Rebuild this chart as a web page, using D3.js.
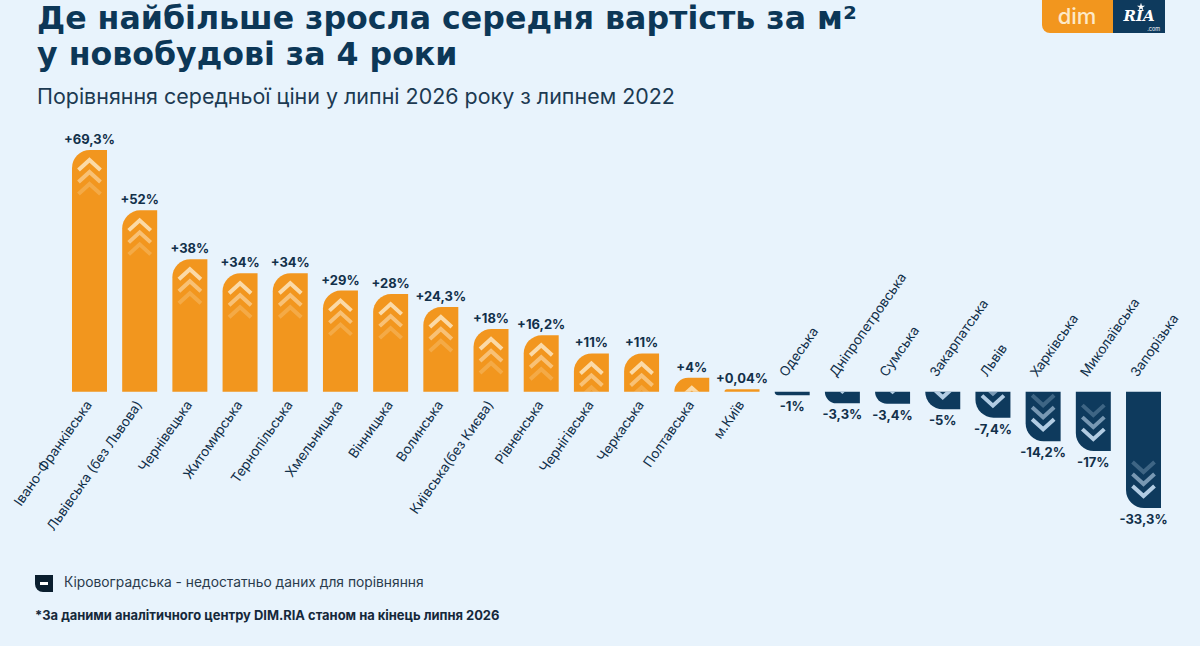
<!DOCTYPE html>
<html>
<head>
<meta charset="utf-8">
<script src="https://cdn.jsdelivr.net/npm/d3@7"></script>
<style>
  html, body { margin: 0; padding: 0; background: #e8f3fc; }
  svg { display: block; font-family: Inter, 'Noto Sans', sans-serif; }
</style>
</head>
<body>
<svg id="chart"></svg>
<script>
// Price change per m² in new buildings, July 2026 vs July 2022

const WIDTH = 1200;
const HEIGHT = 646;

const regions = [
  'Івано-Франківська', 'Львівська (без Львова)', 'Чернівецька', 'Житомирська',
  'Тернопільська', 'Хмельницька', 'Вінницька', 'Волинська', 'Київська(без Києва)',
  'Рівненська', 'Чернігівська', 'Черкаська', 'Полтавська', 'м.Київ',
  'Одеська', 'Дніпропетровська', 'Сумська', 'Закарпатська', 'Львів',
  'Харківська', 'Миколаївська', 'Запорізька'
];
const changes = [
  69.3, 52, 38, 34, 34, 29, 28, 24.3, 18, 16.2, 11, 11, 4, 0.04,
  -1, -3.3, -3.4, -5, -7.4, -14.2, -17, -33.3
];

const ORANGE = '#f2961e';
const NAVY = '#0e3a5d';
const TEXT = '#12304a';

const svg = d3.select('#chart')
  .attr('width', WIDTH)
  .attr('height', HEIGHT);

svg.append('rect')
  .attr('width', WIDTH)
  .attr('height', HEIGHT)
  .attr('fill', '#e8f3fc');

// scale text so it spans a given width
function fitWidth(sel, target) {
  const node = sel.node();
  const size = parseFloat(sel.attr('font-size'));
  const len = node.getComputedTextLength();
  sel.attr('font-size', size * target / len);
}

// Titles (wide bold face, closer to the original)
const t1 = svg.append('text')
  .attr('x', 37).attr('y', 29)
  .attr('font-family', "'DejaVu Sans', sans-serif")
  .attr('font-size', 28).attr('font-weight', 700)
  .attr('fill', '#0c3757')
  .text('Де найбільше зросла середня вартість за м²');
fitWidth(t1, 820);

const t2 = svg.append('text')
  .attr('x', 37).attr('y', 65)
  .attr('font-family', "'DejaVu Sans', sans-serif")
  .attr('font-size', t1.attr('font-size')).attr('font-weight', 700)
  .attr('fill', '#0c3757')
  .text('у новобудові за 4 роки');

const sub = svg.append('text')
  .attr('x', 37).attr('y', 104)
  .attr('font-size', 20)
  .attr('fill', '#1c3a52')
  .text('Порівняння середньої ціни у липні 2026 року з липнем 2022');
fitWidth(sub, 638);

// Logo
const logo = svg.append('g');
logo.append('path')
  .attr('d', 'M1042,0 L1113,0 L1113,33 L1050,33 A8,8 0 0 1 1042,25 Z')
  .attr('fill', ORANGE);
logo.append('rect')
  .attr('x', 1113).attr('y', 0).attr('width', 52).attr('height', 33)
  .attr('fill', NAVY);
logo.append('text')
  .attr('x', 1077).attr('y', 24)
  .attr('text-anchor', 'middle')
  .attr('font-size', 22).attr('font-weight', 500)
  .attr('fill', '#fde9c8')
  .text('dim');
logo.append('text')
  .attr('x', 1139).attr('y', 21)
  .attr('text-anchor', 'middle')
  .attr('font-family', "'DejaVu Serif', 'Liberation Serif', serif")
  .attr('font-size', 15).attr('font-weight', 700).attr('font-style', 'italic')
  .attr('fill', '#ffffff')
  .text('RIA');
logo.append('path')
  .attr('d', d3.symbol(d3.symbolStar, 20)())
  .attr('transform', 'translate(1141,7)')
  .attr('fill', '#ffffff');
logo.append('text')
  .attr('x', 1160).attr('y', 31)
  .attr('text-anchor', 'end')
  .attr('font-size', 5.5)
  .attr('fill', '#ffffff')
  .text('.com');

// Scales
const x = d3.scaleBand()
  .domain(regions)
  .range([72, 1161])
  .paddingInner(0.303)
  .paddingOuter(0);

const y = d3.scaleLinear()
  .domain([-33.3, 69.3])
  .range([508, 150]);

const base = y(0);
const bw = x.bandwidth();

function barPath(v, x0) {
  const w = bw;
  if (v >= 0) {
    const top = Math.min(y(v), base - 2.5);
    const h = base - top;
    const r = Math.min(18, h, w);
    return `M${x0},${base} L${x0},${top + r} A${r},${r} 0 0 1 ${x0 + r},${top} L${x0 + w},${top} L${x0 + w},${base} Z`;
  }
  const bottom = y(v);
  const h = bottom - base;
  const r = Math.min(18, h, w);
  return `M${x0},${base} L${x0 + w},${base} L${x0 + w},${bottom} L${x0 + r},${bottom} A${r},${r} 0 0 1 ${x0},${bottom - r} Z`;
}

function fmt(v) {
  return (v > 0 ? '+' : '') + String(v).replace('.', ',') + '%';
}

const data = regions.map((r, i) => ({ region: r, value: changes[i], i }));

const defs = svg.append('defs');
defs.selectAll('clipPath')
  .data(data)
  .join('clipPath')
  .attr('id', d => 'clip' + d.i)
  .append('path')
  .attr('d', d => barPath(d.value, x(d.region)));

const bars = svg.append('g').selectAll('g.bar')
  .data(data)
  .join('g')
  .attr('class', 'bar');

bars.append('path')
  .attr('d', d => barPath(d.value, x(d.region)))
  .attr('fill', d => d.value >= 0 ? ORANGE : NAVY);

// chevrons inside the bars
const chevOpacity = [0.85, 0.55, 0.25];
bars.append('g')
  .attr('clip-path', d => `url(#clip${d.i})`)
  .each(function (d) {
    const g = d3.select(this);
    const cx = x(d.region) + bw / 2;
    chevOpacity.forEach((op, k) => {
      let p;
      if (d.value >= 0) {
        const a = y(d.value) + 10 + k * 12;
        p = `M${cx - 11},${a + 10} L${cx},${a} L${cx + 11},${a + 10}`;
      } else {
        const a = y(d.value) - 12 - k * 12;
        p = `M${cx - 11},${a - 10} L${cx},${a} L${cx + 11},${a - 10}`;
      }
      g.append('path')
        .attr('d', p)
        .attr('fill', 'none')
        .attr('stroke', d.value >= 0 ? '#fde6c0' : '#cfe6fa')
        .attr('stroke-width', 4)
        .attr('opacity', op);
    });
  });

// value labels
bars.append('text')
  .attr('x', d => x(d.region) + bw / 2)
  .attr('y', d => d.value >= 0 ? Math.min(y(d.value), base - 2.5) - 6 : y(d.value) + 16)
  .attr('text-anchor', 'middle')
  .attr('font-size', 13)
  .attr('font-weight', 700)
  .attr('fill', TEXT)
  .text(d => fmt(d.value));

// category labels
bars.append('text')
  .attr('transform', d => {
    const cx = x(d.region) + bw / 2;
    return d.value >= 0
      ? `translate(${cx + 3},${base + 13}) rotate(-55)`
      : `translate(${cx - 6},${base - 14}) rotate(-55)`;
  })
  .attr('text-anchor', d => d.value >= 0 ? 'end' : 'start')
  .attr('font-size', 13.5)
  .attr('fill', TEXT)
  .text(d => d.region);

// Legend note
svg.append('path')
  .attr('d', 'M35,575 L53,575 L53,592 L43,592 A8,8 0 0 1 35,584 Z')
  .attr('fill', '#0a1e2e');
svg.append('rect')
  .attr('x', 40).attr('y', 582).attr('width', 8).attr('height', 3)
  .attr('fill', '#ffffff');
const note = svg.append('text')
  .attr('x', 64).attr('y', 587)
  .attr('font-size', 14.5)
  .attr('fill', '#2a3b4c')
  .text('Кіровоградська - недостатньо даних для порівняння');
fitWidth(note, 360);

const foot = svg.append('text')
  .attr('x', 35).attr('y', 620)
  .attr('font-size', 13.5)
  .attr('font-weight', 700)
  .attr('fill', '#15283a')
  .text('*За даними аналітичного центру DIM.RIA станом на кінець липня 2026');
fitWidth(foot, 465);
</script>
</body>
</html>
